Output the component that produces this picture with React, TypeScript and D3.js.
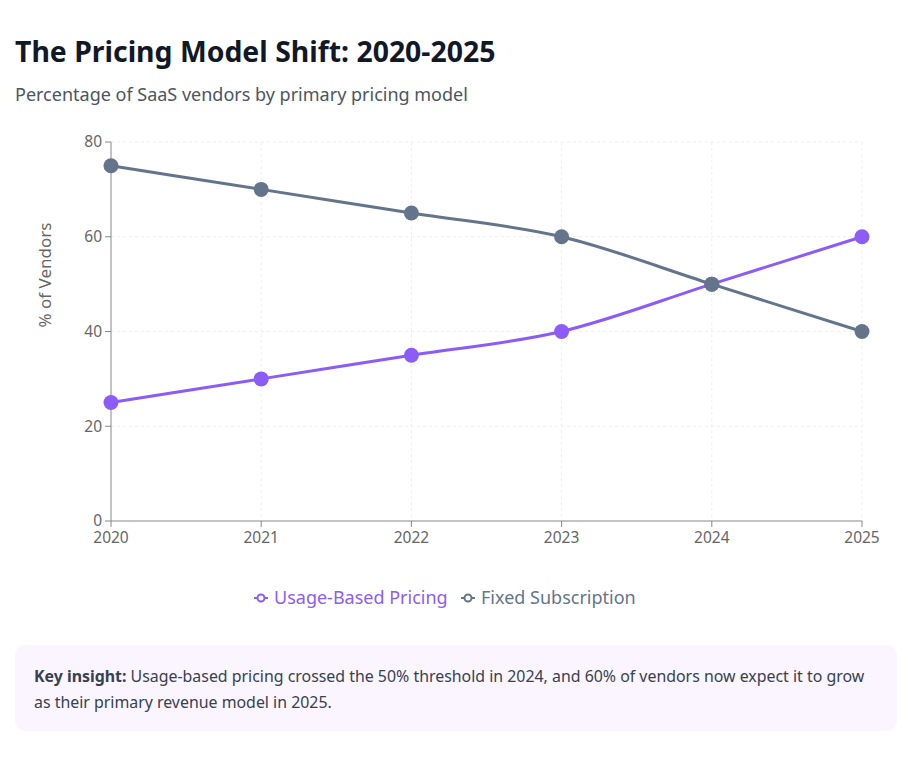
import * as React from 'react';
import * as d3 from 'd3';

const years = ['2020', '2021', '2022', '2023', '2024', '2025'];
const usageBased = [25, 30, 35, 40, 50, 60];
const fixedSub = [75, 70, 65, 60, 50, 40];
const yTicks = [0, 20, 40, 60, 80];

const series = [
  { name: 'Usage-Based Pricing', color: '#8b5cf6', values: usageBased },
  { name: 'Fixed Subscription', color: '#64748b', values: fixedSub },
];

const W = 910;
const H = 779;
const FONT = '"Noto Sans", "Open Sans", sans-serif';

const App: React.FC = () => {
  const marginLeft = 111;
  const marginRight = 48;
  const top = 142;
  const bottom = 521;

  const x = d3.scalePoint<string>().domain(years).range([marginLeft, W - marginRight]);
  const y = d3.scaleLinear().domain([0, 80]).range([bottom, top]);

  const line = d3.line<number>()
    .x((d, i) => x(years[i])!)
    .y(d => y(d))
    .curve(d3.curveMonotoneX);

  const legendY = 598;
  const legendItems = [
    { ...series[0], x: 254 },
    { ...series[1], x: 461 },
  ];

  return (
    <div style={{ position: 'absolute', left: 0, top: 0 }}>
      <svg width={W} height={H} style={{ display: 'block', fontFamily: FONT }}>
        <rect width={W} height={H} fill="#fff" />
        <text x={15} y={62} fontSize={28.4} fontWeight={700} fill="#111827">
          The Pricing Model Shift: 2020-2025
        </text>
        <text x={15} y={101} fontSize={18} fill="#4b5563">
          Percentage of SaaS vendors by primary pricing model
        </text>

        {/* grid */}
        <g stroke="#eeeeee" strokeDasharray="3 3">
          {yTicks.filter(t => t > 0).map(t => (
            <line key={t} x1={marginLeft} x2={W - marginRight} y1={y(t)} y2={y(t)} />
          ))}
          {years.slice(1).map(yr => (
            <line key={yr} x1={x(yr)} x2={x(yr)} y1={top} y2={bottom} />
          ))}
        </g>

        {/* axes */}
        <g stroke="#888" fill="none">
          <line x1={marginLeft} x2={marginLeft} y1={top} y2={bottom} />
          <line x1={marginLeft} x2={W - marginRight} y1={bottom} y2={bottom} />
          {yTicks.map(t => (
            <line key={t} x1={marginLeft - 6} x2={marginLeft} y1={y(t)} y2={y(t)} />
          ))}
          {years.map(yr => (
            <line key={yr} x1={x(yr)} x2={x(yr)} y1={bottom} y2={bottom + 6} />
          ))}
        </g>
        <g fontSize={15.5} fill="#666">
          {yTicks.map(t => (
            <text key={t} x={marginLeft - 9} y={y(t)} dy="0.35em" textAnchor="end">{t}</text>
          ))}
          {years.map(yr => (
            <text key={yr} x={x(yr)} y={bottom + 22} textAnchor="middle">{yr}</text>
          ))}
        </g>
        <text
          transform="translate(51, 275) rotate(-90)"
          textAnchor="middle"
          fontSize={17}
          fill="#666"
        >
          % of Vendors
        </text>

        {/* lines */}
        {series.map(s => (
          <g key={s.name}>
            <path d={line(s.values) || undefined} fill="none" stroke={s.color} strokeWidth={3} />
            {s.values.map((v, i) => (
              <circle key={i} cx={x(years[i])} cy={y(v)} r={7.5} fill={s.color} />
            ))}
          </g>
        ))}

        {/* legend */}
        {legendItems.map(it => (
          <g key={it.name} transform={`translate(${it.x}, ${legendY})`}>
            <line x1={0} x2={14} y1={0} y2={0} stroke={it.color} strokeWidth={2} />
            <circle cx={7} cy={0} r={3.5} fill="#fff" stroke={it.color} strokeWidth={2} />
            <text x={20} y={0} dy="0.35em" fontSize={18} fill={it.color}>{it.name}</text>
          </g>
        ))}

        {/* insight box */}
        <rect x={15} y={645} width={882} height={86} rx={10} fill="#faf5ff" />
        <text x={34} y={682} fontSize={15.9} fill="#374151">
          <tspan fontWeight={700}>Key insight:</tspan>
          <tspan> Usage-based pricing crossed the 50% threshold in 2024, and 60% of vendors now expect it to grow</tspan>
        </text>
        <text x={34} y={708} fontSize={15.9} fill="#374151">
          as their primary revenue model in 2025.
        </text>
      </svg>
    </div>
  );
};

export default App;
